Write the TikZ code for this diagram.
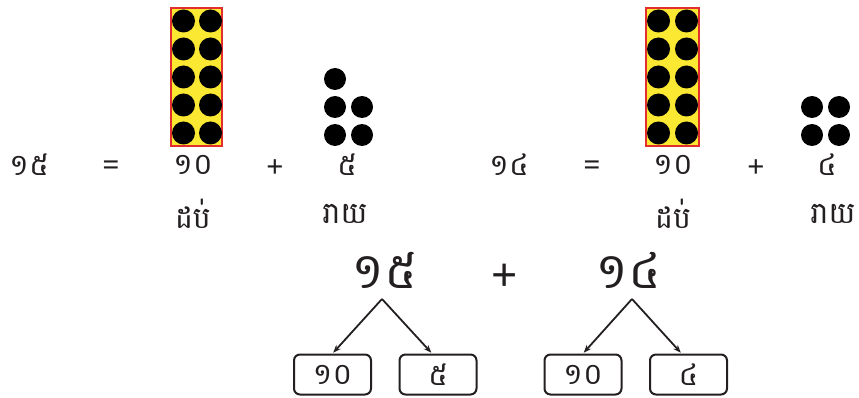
\documentclass[tikz,border=0pt]{standalone}
\usepackage{fontspec}
\usetikzlibrary{arrows.meta}
\newfontfamily\khmer[Script=Khmer]{Battambang}
\newfontfamily\symfont{Noto Sans}
\definecolor{tfyellow}{RGB}{250,232,50}
\definecolor{tfred}{RGB}{228,45,45}
\definecolor{ink}{RGB}{35,31,32}
\begin{document}
\begin{tikzpicture}[x=1pt,y=-1pt,
  txt/.style={font=\khmer\fontsize{30}{36}\selectfont, inner sep=0pt, anchor=center, text=ink},
  big/.style={font=\khmer\fontsize{50}{60}\selectfont, inner sep=0pt, anchor=center, text=ink},
  sym/.style={font=\symfont\fontsize{30}{36}\selectfont, inner sep=0pt, text=ink},
  dot/.style={fill=black, draw=none},
  tenframe/.style={fill=tfyellow, draw=tfred, line width=1.2pt},
  pbox/.style={draw=ink, rounded corners=6pt, line width=2pt, minimum width=77pt, minimum height=40pt, font=\khmer\fontsize{30}{36}\selectfont, inner sep=0pt, text=ink},
  arr/.style={-{Stealth[length=8pt,width=6pt]}, line width=1.8pt, draw=ink, shorten >=1pt}
]
\useasboundingbox (0,0) rectangle (859,398);
% left ten frame
\draw[tenframe] (171,8) rectangle (222,146);
\foreach \r in {21,49,77,105,133}{
  \fill[dot] (183.5,\r) circle (11.5);
  \fill[dot] (210.5,\r) circle (11.5);
}
% five dots
\fill[dot] (335,79) circle (11);
\fill[dot] (335,107) circle (11);
\fill[dot] (362,107) circle (11);
\fill[dot] (335,135) circle (11);
\fill[dot] (362,135) circle (11);
% right ten frame
\draw[tenframe] (646,8) rectangle (699,146);
\foreach \r in {21,49,77,105,133}{
  \fill[dot] (658.5,\r) circle (11.5);
  \fill[dot] (686.5,\r) circle (11.5);
}
% four dots
\fill[dot] (812,107) circle (11);
\fill[dot] (839,107) circle (11);
\fill[dot] (812,135) circle (11);
\fill[dot] (839,135) circle (11);
% equation row left
\node[txt] (n15) at (29,165) {១៥};
\node[sym] (eq1) at (111,168) {=};
\node[txt] (n10a) at (193,165) {១០};
\node[sym] (pl1) at (275,169) {+};
\node[txt] (n5) at (347,165) {៥};
\node[txt] (dp1) at (193,214) {ដប់};
\node[txt] (ry1) at (345,214) {រាយ};
% equation row right
\node[txt] (n14) at (509,165) {១៤};
\node[sym] (eq2) at (592,168) {=};
\node[txt] (n10b) at (673,165) {១០};
\node[sym] (pl2) at (756,169) {+};
\node[txt] (n4) at (827,165) {៤};
\node[txt] (dp2) at (673,214) {ដប់};
\node[txt] (ry2) at (833,214) {រាយ};
% bottom
\node[big] (b15) at (384,270) {១៥};
\node[font=\symfont\fontsize{46}{54}\selectfont, inner sep=0pt, text=ink] (bpl) at (505,278) {+};
\node[big] (b14) at (628,270) {១៤};
\coordinate (a1) at (382,299);
\coordinate (a2) at (632,299);
\node[pbox] (bx1) at (332.5,374.5) {១០};
\node[pbox] (bx2) at (438,374.5) {៥};
\node[pbox] (bx3) at (583,374.5) {១០};
\node[pbox] (bx4) at (688.5,374.5) {៤};
\draw[arr] (a1) -- (bx1.north);
\draw[arr] (a1) -- ([xshift=-6pt]bx2.north);
\draw[arr] (a2) -- (bx3.north);
\draw[arr] (a2) -- ([xshift=-7pt]bx4.north);
\end{tikzpicture}
\end{document}
